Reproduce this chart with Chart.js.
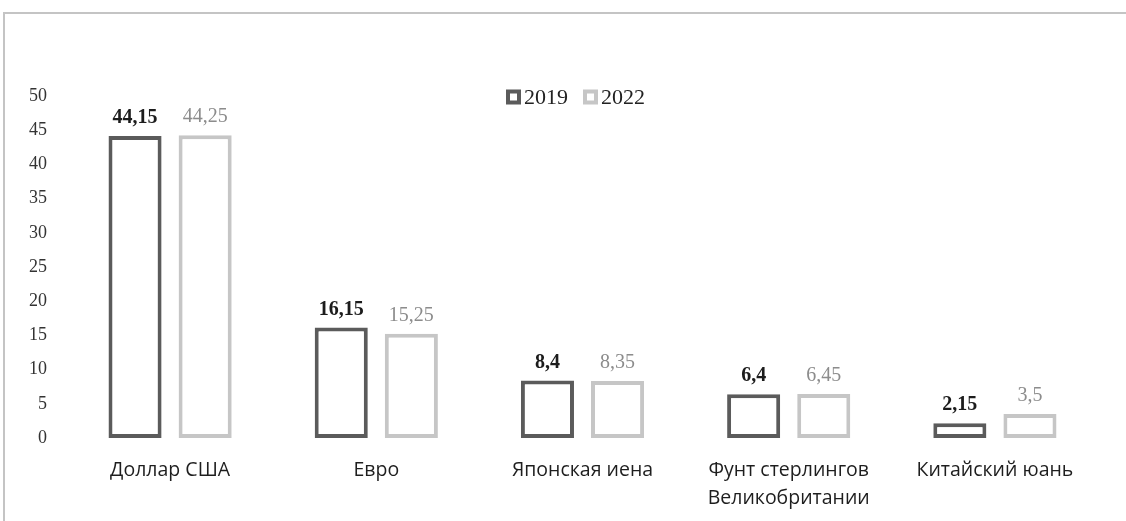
<!DOCTYPE html>
<html>
<head>
<meta charset="utf-8">
<script src="https://cdn.jsdelivr.net/npm/chart.js@4"></script>
<style>
  body { margin: 0; background: #fff; }
  #wrap { position: relative; width: 1126px; height: 521px; overflow: hidden; }
  #frame { position: absolute; left: 3px; top: 12px; width: 1200px; height: 600px;
           border-top: 2px solid #c4c4c4; border-left: 2px solid #c4c4c4; }
  canvas { position: absolute; left: 0; top: 0; }
</style>
</head>
<body>
<div id="wrap">
  <div id="frame"></div>
  <canvas id="chart" width="1126" height="521"></canvas>
</div>
<script>
// валюты
const categories = ["Доллар США", "Евро", "Японская иена", ["Фунт стерлингов", "Великобритании"], "Китайский юань"];
const years = ["2019", "2022"];
const values2019 = [44.15, 16.15, 8.4, 6.4, 2.15];
const values2022 = [44.25, 15.25, 8.35, 6.45, 3.5];
const yTicks = [0, 5, 10, 15, 20, 25, 30, 35, 40, 45, 50];

const darkGrey = "#5b5b5b";
const lightGrey = "#c6c6c6";
const serif = "'Liberation Serif', 'Times New Roman', serif";

// подписи над столбиками
const barLabels = {
    id: "barLabels",
    afterDatasetsDraw(chart) {
        const ctx = chart.ctx;
        chart.data.datasets.forEach((ds, i) => {
            const meta = chart.getDatasetMeta(i);
            ctx.save();
            ctx.font = (i === 0 ? "bold " : "") + "20px " + serif;
            ctx.fillStyle = i === 0 ? "#1c1c1c" : "#8c8c8c";
            ctx.textAlign = "center";
            ctx.textBaseline = "alphabetic";
            meta.data.forEach((bar, j) => {
                const txt = String(ds.data[j]).replace(".", ",");
                ctx.fillText(txt, bar.x, bar.y - 13);
            });
            ctx.restore();
        });
    }
};

// легенда внутри области графика
const insideLegend = {
    id: "insideLegend",
    afterDraw(chart) {
        const ctx = chart.ctx;
        const area = chart.chartArea;
        const box = 15, gap = 3, itemGap = 15;
        ctx.save();
        ctx.font = "22px " + serif;
        ctx.textBaseline = "middle";
        const widths = chart.data.datasets.map(ds => box + gap + ctx.measureText(ds.label).width);
        const total = widths.reduce((a, b) => a + b, 0) + itemGap * (widths.length - 1);
        let x = (area.left + area.right) / 2 - 7 - total / 2;
        const y = area.top + 1;
        chart.data.datasets.forEach((ds, i) => {
            ctx.strokeStyle = ds.borderColor;
            ctx.lineWidth = 4;
            ctx.strokeRect(x + 2, y - box / 2 + 2, box - 4, box - 4);
            ctx.fillStyle = "#222";
            ctx.fillText(ds.label, x + box + gap, y + 1);
            x += widths[i] + itemGap;
        });
        ctx.restore();
    }
};

new Chart(document.getElementById("chart"), {
    type: "bar",
    data: {
        labels: categories,
        datasets: [
            {
                label: years[0],
                data: values2019,
                backgroundColor: "#ffffff",
                borderColor: darkGrey,
                borderWidth: 4,
                borderSkipped: false
            },
            {
                label: years[1],
                data: values2022,
                backgroundColor: "#ffffff",
                borderColor: lightGrey,
                borderWidth: 4,
                borderSkipped: false
            }
        ]
    },
    options: {
        responsive: false,
        animation: false,
        categoryPercentage: 0.68,
        barPercentage: 0.757,
        layout: { padding: { left: 9, right: 28, top: 96, bottom: 0 } },
        plugins: {
            legend: { display: false },
            tooltip: { enabled: false }
        },
        scales: {
            x: {
                grid: { display: false, drawTicks: false },
                border: { display: false },
                afterFit: (axis) => { axis.height = 83; },
                ticks: {
                    color: "#1e1e1e",
                    padding: 19,
                    maxRotation: 0,
                    font: { family: "'Open Sans', 'Noto Sans', sans-serif", size: 19.5, lineHeight: 1.4 }
                }
            },
            y: {
                min: 0,
                max: 50,
                afterBuildTicks: (axis) => { axis.ticks = yTicks.map(v => ({ value: v })); },
                grid: { display: false, drawTicks: false },
                border: { display: false },
                ticks: {
                    color: "#333",
                    padding: 20,
                    font: { family: serif, size: 18 }
                }
            }
        }
    },
    plugins: [barLabels, insideLegend]
});
</script>
</body>
</html>
